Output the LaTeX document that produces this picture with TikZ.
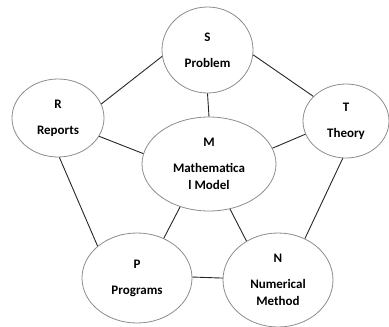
\documentclass[tikz,border=0pt]{standalone}
\usepackage{fontspec}
\setmainfont{Carlito}
\usetikzlibrary{shapes.geometric}

\tikzset{
    topic/.style={draw=black!45, ellipse, inner sep=0pt, align=center,
        font=\bfseries\fontsize{13}{17}\selectfont, line width=0.8pt},
    link/.style={draw=black!85, line width=0.9pt}
}

\begin{document}
\begin{tikzpicture}[x=1pt,y=-1pt]
    \useasboundingbox (0,0) rectangle (389,327);
    % the six topics
    \node[topic, minimum width=91pt, minimum height=86pt] (S) at (207.5,50) {S\\[9pt]Problem};
    \node[topic, minimum width=92pt, minimum height=78pt] (R) at (58,118) {R\\[9pt]Reports};
    \node[topic, minimum width=86pt, minimum height=74pt] (T) at (346,121) {T\\[9pt]Theory};
    \node[topic, minimum width=134pt, minimum height=94pt] (M) at (209,164) {M\\[9pt]Mathematica\\l Model};
    \node[topic, minimum width=110pt, minimum height=90pt] (P) at (137,278) {P\\[9pt]Programs};
    \node[topic, minimum width=110pt, minimum height=94pt] (N) at (278,280) {N\\[9pt]Numerical\\Method};
    % connections
    \draw[link] (S.188) -- (R.18) (S.-6) -- (T.143) (S.south) -- (M.north);
    \draw[link] (R.-24) -- (M.171) (T.198) -- (M.14);
    \draw[link] (R.-88) -- (P.141) (T.-95) -- (N.57);
    \draw[link] (M.236) -- (P.56) (M.-65) -- (N.129) (P.1) -- (N.178);
\end{tikzpicture}
\end{document}
